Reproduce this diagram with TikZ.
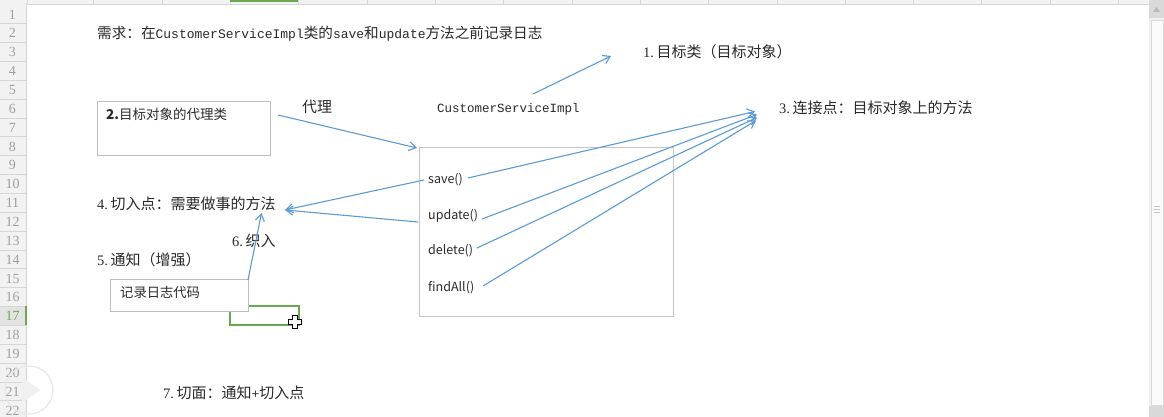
\documentclass[tikz,border=0pt]{standalone}
\usepackage{fontspec}
\setmainfont{Liberation Serif}
\setmonofont{Liberation Mono}
\newfontfamily\cjk{Noto Sans CJK SC}
\usetikzlibrary{arrows.meta}
\definecolor{arr}{HTML}{5B9BD5}
\definecolor{txt}{HTML}{2A2A2A}
\definecolor{boxline}{HTML}{BDBDBD}
\definecolor{hdr}{HTML}{F2F2F2}
\definecolor{hdrline}{HTML}{D6D6D6}
\definecolor{selgreen}{HTML}{6AA84F}
\newcommand{\zh}[1]{{\cjk\fontsize{15pt}{16pt}\selectfont #1}}
\newcommand{\zhw}[1]{{\cjk\fontsize{14.6pt}{16pt}\selectfont #1}}
\newcommand{\lt}[1]{{\ttfamily\fontsize{13pt}{14pt}\selectfont #1}}
\newcommand{\num}[1]{{\rmfamily\fontsize{14.5pt}{16pt}\selectfont #1}\hspace{2.5pt}}
\tikzset{
  lbl/.style={anchor=base west, inner sep=0pt, text=txt},
  boxlbl/.style={anchor=base west, inner sep=0pt, text=txt, font=\cjk\fontsize{12.5pt}{14pt}\selectfont},
  shapebox/.style={draw=boxline, line width=0.9pt, fill=white, anchor=north west, inner sep=0pt},
  conn/.style={draw=arr, line width=1.1pt, -{Straight Barb[length=7pt,width=9pt,line width=1.1pt]}},
  rownum/.style={inner sep=0pt, text=gray!75, font=\fontsize{14pt}{15pt}\selectfont}
}
\begin{document}
\begin{tikzpicture}[x=1pt,y=-1pt]
\useasboundingbox (0,0) rectangle (1164,417);
\fill[white] (0,0) rectangle (1164,417);
% column header strip
\fill[hdr] (0,0) rectangle (1150,4);
\draw[hdrline] (0,4) -- (1150,4);
\foreach \cx in {27,93.5,162,230,298,367,435,503,572,640,708,777,845,913,981,1050,1118}
  \draw[hdrline] (\cx,0) -- (\cx,4);
\fill[selgreen] (230,0) rectangle (298,2.5);
% row header
\fill[hdr] (0,4) rectangle (26,417);
\fill[gray!22] (0,306.4) rectangle (26,325.3);
\draw[hdrline] (26,4) -- (26,417);
\foreach \n in {1,...,22}{
  \draw[hdrline] (0,{4.6+\n*18.86}) -- (26,{4.6+\n*18.86});
}
\foreach \n in {1,...,16,18,19,20,21,22}{
  \node[rownum] at (12.5,{14.5+(\n-1)*18.86}) {\n};
}
\node[rownum, text=selgreen] at (12.5,{14.5+16*18.86}) {17};
\fill[selgreen] (24.5,306.4) rectangle (26.5,325.3);
% play button overlay
\draw[gray!18, line width=1.2pt] (29,390) circle (24);
\fill[gray!12] (22,377) -- (40,390) -- (22,403) -- cycle;
% scrollbar
\fill[gray!12] (1149,0) rectangle (1164,417);
\fill[gray!30] (1149,0) rectangle (1164,18);
\fill[gray!55] (1153,12) -- (1156.5,7) -- (1160,12) -- cycle;
\fill[gray!4] (1151,20) rectangle (1163,405);
\draw[gray!30] (1151,20) rectangle (1163,405);
\foreach \gy in {206,209,212} \draw[gray!45] (1154,\gy) -- (1160,\gy);
\fill[gray!30] (1149,406) rectangle (1164,417);

% selected cell
\draw[selgreen, line width=1.8pt] (230,306) rectangle (299,325);

% boxes
\node[shapebox, minimum width=173pt, minimum height=54pt] (proxybox) at (97,101) {};
\node[boxlbl, font=\cjk\fontsize{13.5pt}{15pt}\selectfont] (proxytxt) at (106,120) {\textbf{2.}目标对象的代理类};
\node[shapebox, minimum width=138pt, minimum height=32pt] (logbox) at (110,279) {};
\node[boxlbl, font=\cjk\fontsize{13.3pt}{15pt}\selectfont] (logtxt) at (120,297) {记录日志代码};
\node[shapebox, draw=gray!45, minimum width=254pt, minimum height=169pt] (target) at (419,147) {};
\node[boxlbl] (msave) at (428,183.5) {save()};
\node[boxlbl] (mupdate) at (428,219.5) {update()};
\node[boxlbl] (mdelete) at (428,254.5) {delete()};
\node[boxlbl] (mfind) at (428,291.5) {findAll()};

% sheet texts
\node[lbl] (req) at (97,38.5) {\zhw{需求：在}\lt{CustomerServiceImpl}\zhw{类的}\lt{save}\zhw{和}\lt{update}\zhw{方法之前记录日志}};
\node[lbl] (t1) at (643,57.5) {\num{1.}\zh{目标类（目标对象）}};
\node[lbl] (cls) at (437,112.5) {{\ttfamily\fontsize{12.5pt}{14pt}\selectfont CustomerServiceImpl}};
\node[lbl] (proxy) at (302,112.5) {\zh{代理}};
\node[lbl] (t3) at (779,113.5) {\num{3.}\zh{连接点：目标对象上的方法}};
\node[lbl] (t4) at (97,209.5) {\num{4.}\zh{切入点：需要做事的方法}};
\node[lbl] (t6) at (232,246.5) {\num{6.}\zh{织入}};
\node[lbl] (t5) at (97,265.5) {\num{5.}\zh{通知（增强）}};
\node[lbl] (t7) at (163,398.5) {\num{7.}\zh{切面：通知}\lt{+}\zh{切入点}};

% connector end points
\coordinate (c1s) at (533,94);
\coordinate (c1e) at (611,56);
\coordinate (cps) at (278,115);
\coordinate (cpe) at (417,148);
\coordinate (js) at (468,178);
\coordinate (je) at (755,111.5);
\coordinate (ju) at (482,219);
\coordinate (jue) at (757,114.5);
\coordinate (jd) at (477,248);
\coordinate (jde) at (757,117.5);
\coordinate (jf) at (483,286);
\coordinate (jfe) at (756,120.5);
\coordinate (p1) at (424,180);
\coordinate (p2) at (418,222);
\coordinate (pe) at (285,210);
\coordinate (ws) at (248,280);
\coordinate (we) at (261.5,213);

\draw[conn] (c1s) -- (c1e);
\draw[conn] (cps) -- (cpe);
\draw[conn] (js) -- (je);
\draw[conn] (ju) -- (jue);
\draw[conn] (jd) -- (jde);
\draw[conn] (jf) -- (jfe);
\draw[conn] (p1) -- (pe);
\draw[conn] (p2) -- (pe);
\draw[conn] (ws) -- (we);

% mouse cursor (plus)
\coordinate (cur) at (295,322);
\filldraw[fill=white, draw=black, line width=1pt, shift={(cur)}]
  (-2.5,-6.5) -- (2.5,-6.5) -- (2.5,-2.5) -- (6.5,-2.5) -- (6.5,2.5) -- (2.5,2.5)
  -- (2.5,6.5) -- (-2.5,6.5) -- (-2.5,2.5) -- (-6.5,2.5) -- (-6.5,-2.5) -- (-2.5,-2.5) -- cycle;
\end{tikzpicture}
\end{document}
